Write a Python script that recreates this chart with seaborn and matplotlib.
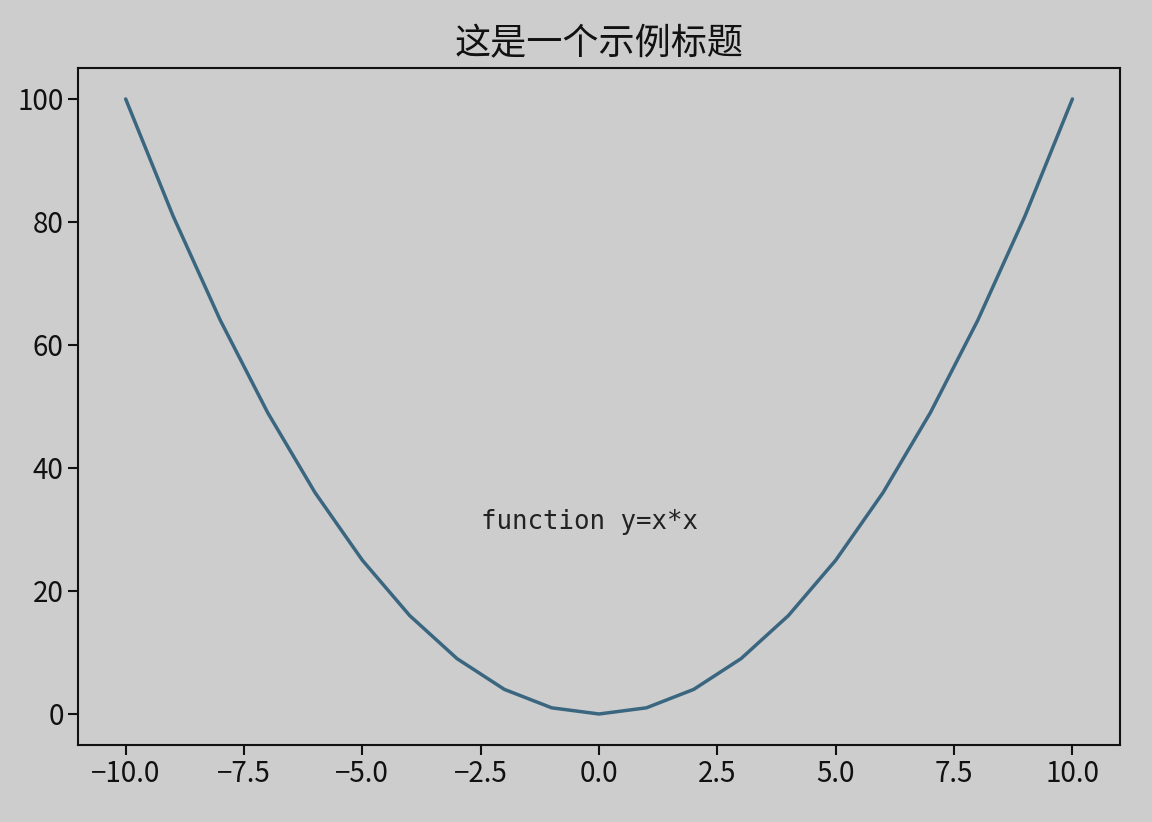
import pandas as pd
import seaborn as sns
import matplotlib.pyplot as plt

# values: y = x*x at integer x
x_vals = [-10, -9, -8, -7, -6, -5, -4, -3, -2, -1, 0, 1, 2, 3, 4, 5, 6, 7, 8, 9, 10]
y_vals = [100, 81, 64, 49, 36, 25, 16, 9, 4, 1, 0, 1, 4, 9, 16, 25, 36, 49, 64, 81, 100]
title_text = "这是一个示例标题"
note_text = "function y=x*x"

df = pd.DataFrame({"x": x_vals, "y": y_vals})

sns.set_style("ticks")
plt.rcParams['font.family'] = ['Noto Sans CJK SC', 'DejaVu Sans']
plt.rcParams['axes.unicode_minus'] = True

bg = "#cdcdcd"
fig = plt.figure(figsize=(11.52, 8.22), dpi=100, facecolor=bg)
ax = fig.add_axes([0.068, 0.094, 0.904, 0.823])
ax.set_facecolor(bg)

sns.lineplot(data=df, x="x", y="y", ax=ax, color="#3a6680", linewidth=2.5)

ax.text(-2.5, 30, note_text, fontsize=18.5, family=['DejaVu Sans Mono'], color="#222222")
ax.set_title(title_text, fontsize=26, pad=10, color="#111111")
ax.set_xlabel("")
ax.set_ylabel("")
ax.set_xticks([-10, -7.5, -5, -2.5, 0, 2.5, 5, 7.5, 10])
ax.set_xticklabels(["−10.0", "−7.5", "−5.0", "−2.5", "0.0", "2.5", "5.0", "7.5", "10.0"])
ax.set_yticks([0, 20, 40, 60, 80, 100])
ax.tick_params(axis='both', labelsize=20, length=7, width=1.5, colors="#111111")
for sp in ax.spines.values():
    sp.set_visible(True)
    sp.set_linewidth(1.5)
    sp.set_color("#111111")

fig.savefig("out.png", dpi=100, facecolor=bg)
